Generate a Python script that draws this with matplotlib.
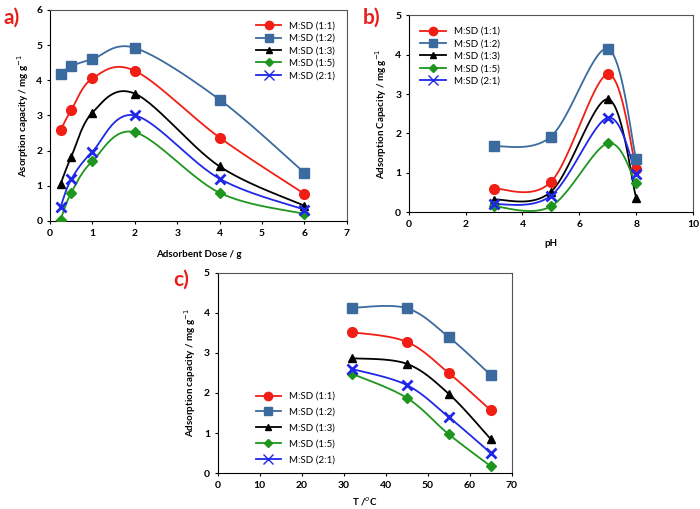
import numpy as np
import matplotlib
matplotlib.use("Agg")
import matplotlib.pyplot as plt

plt.rcParams['font.family'] = ['Lato', 'DejaVu Sans']

labels = ["M:SD (1:1)", "M:SD (1:2)", "M:SD (1:3)", "M:SD (1:5)", "M:SD (2:1)"]
colors = ["#f01e14", "#3a6a9e", "#000000", "#1e961e", "#1e28e6"]
markers = ["o", "s", "^", "D", "x"]
msizes = [7, 7, 6, 5, 7.5]

# a) adsorbent dose
dose = [0.25, 0.5, 1, 2, 4, 6]
dose_11 = [2.58, 3.15, 4.05, 4.27, 2.37, 0.77]
dose_12 = [4.18, 4.40, 4.60, 4.92, 3.45, 1.37]
dose_13 = [1.05, 1.82, 3.08, 3.62, 1.55, 0.43]
dose_15 = [0.03, 0.80, 1.70, 2.52, 0.80, 0.20]
dose_21 = [0.40, 1.18, 1.97, 3.00, 1.20, 0.32]

# b) pH
ph = [3, 5, 7, 8]
ph_11 = [0.60, 0.77, 3.50, 1.10]
ph_12 = [1.67, 1.92, 4.15, 1.35]
ph_13 = [0.32, 0.52, 2.87, 0.37]
ph_15 = [0.15, 0.15, 1.75, 0.73]
ph_21 = [0.20, 0.42, 2.40, 0.97]

# c) temperature
temp = [32, 45, 55, 65]
t_11 = [3.52, 3.28, 2.50, 1.57]
t_12 = [4.13, 4.12, 3.40, 2.45]
t_13 = [2.87, 2.73, 1.98, 0.85]
t_15 = [2.48, 1.88, 0.97, 0.17]
t_21 = [2.60, 2.20, 1.40, 0.50]


def smooth(x, y, n=30):
    # excel-style smoothed line (bezier through the points)
    p = np.column_stack([x, y]).astype(float)
    p = np.vstack([p[:1], p, p[-1:]])
    t = np.linspace(0, 1, n)[:, None]
    out = []
    for i in range(1, len(p) - 2):
        p0, p1 = p[i], p[i + 1]
        c1 = p0 + (p[i + 1] - p[i - 1]) / 6
        c2 = p1 - (p[i + 2] - p[i]) / 6
        seg = (1 - t) ** 3 * p0 + 3 * (1 - t) ** 2 * t * c1 + 3 * (1 - t) * t ** 2 * c2 + t ** 3 * p1
        out.append(seg)
    out = np.vstack(out)
    return out[:, 0], out[:, 1]


def panel(ax, x, series, xlim, xticks, ylim, yticks, xlabel, ylabel, leg_loc, xpad=4):
    for y, lab, c, m, ms in zip(series, labels, colors, markers, msizes):
        sx, sy = smooth(x, y)
        ax.plot(sx, sy, color=c, lw=1.3, zorder=2)
        ax.plot(x, y, ls='none', marker=m, color=c, ms=ms, mew=2 if m == 'x' else 1, zorder=3)
        ax.plot([], [], color=c, marker=m, ms=ms - 1, lw=1.3, label=lab)
    ax.set_xlim(xlim)
    ax.set_ylim(ylim)
    ax.set_xticks(xticks)
    ax.set_yticks(yticks)
    ax.tick_params(direction='out', length=2, labelsize=7.5, width=0.8)
    for t in ax.get_xticklabels() + ax.get_yticklabels():
        t.set_fontweight('bold')
    for s in ax.spines.values():
        s.set_color('#555555')
        s.set_linewidth(0.8)
    ax.spines['left'].set_color('black')
    ax.spines['bottom'].set_color('black')
    ax.set_xlabel(xlabel, fontsize=7, fontweight='bold', labelpad=xpad)
    ax.set_ylabel(ylabel, fontsize=7, fontweight='bold')
    ax.legend(loc=leg_loc, frameon=False, fontsize=7, handlelength=2.6,
              labelspacing=0.35, borderaxespad=0.8)


fig = plt.figure(figsize=(7, 5.09), dpi=100)

ax1 = fig.add_axes([0.0714, 0.566, 0.424, 0.4145])
panel(ax1, dose, [dose_11, dose_12, dose_13, dose_15, dose_21],
      (0, 7), range(0, 8), (0, 6), range(0, 7),
      "Adsorbent Dose / g", "Asorption capacity / mg g$^{-1}$", "upper right", xpad=9)

ax2 = fig.add_axes([0.584, 0.583, 0.406, 0.387])
panel(ax2, ph, [ph_11, ph_12, ph_13, ph_15, ph_21],
      (0, 10), range(0, 11, 2), (0, 5), range(0, 6),
      "pH", "Adsorption Capacity / mg g$^{-1}$", "upper left", xpad=7)

ax3 = fig.add_axes([0.311, 0.0707, 0.42, 0.393])
panel(ax3, temp, [t_11, t_12, t_13, t_15, t_21],
      (0, 70), range(0, 71, 10), (0, 5), range(0, 6),
      "T /$^{o}$C", "Adsorption capacity / mg g$^{-1}$", "lower left", xpad=4)
ax3.legend(loc='lower left', bbox_to_anchor=(0.1, 0.0), frameon=False, fontsize=7,
           handlelength=2.6, labelspacing=0.7)

for txt, x, y in [("a)", 0.005, 0.965), ("b)", 0.518, 0.965), ("c)", 0.248, 0.45)]:
    fig.text(x, y, txt, color="#e8201a", fontsize=15, fontweight='bold', va='center')

fig.savefig("out.png", dpi=100)
